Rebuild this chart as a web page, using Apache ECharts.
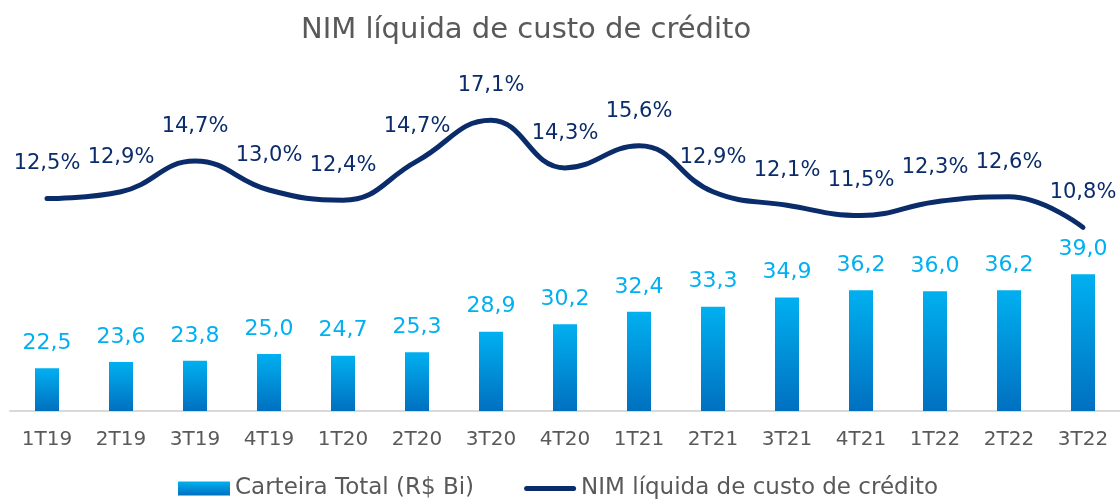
<!DOCTYPE html>
<html><head><meta charset="utf-8">
<script src="https://cdn.jsdelivr.net/npm/echarts@6/dist/echarts.min.js"></script>
<style>html,body{margin:0;padding:0;background:#fff}#c{width:1120px;height:500px}</style>
</head><body><div id="c"></div>
<script>
const categories = ['1T19','2T19','3T19','4T19','1T20','2T20','3T20','4T20','1T21','2T21','3T21','4T21','1T22','2T22','3T22'];
const carteira = [22.5,23.6,23.8,25.0,24.7,25.3,28.9,30.2,32.4,33.3,34.9,36.2,36.0,36.2,39.0];
const nim = [12.5,12.9,14.7,13.0,12.4,14.7,17.1,14.3,15.6,12.9,12.1,11.5,12.3,12.6,10.8];
const titleText = 'NIM líquida de custo de crédito';
const barName = 'Carteira Total (R$ Bi)';
const lineName = 'NIM líquida de custo de crédito';

const FONT = 'DejaVu Sans';
const NAVY = '#0B2C6B';
const fmt = (v, d) => v.toFixed(d).replace('.', ',');
const chart = echarts.init(document.getElementById('c'));
const grad = new echarts.graphic.LinearGradient(0,0,0,1,[{offset:0,color:'#00B0F0'},{offset:1,color:'#0070C0'}]);
chart.setOption({
  animation:false,
  textStyle:{fontFamily:FONT},
  title:{text:titleText,left:296,top:11,textStyle:{fontFamily:FONT,fontSize:29,fontWeight:'normal',color:'#595959'}},
  legend:{top:472,left:173,itemWidth:52,itemHeight:14,itemGap:50,
    textStyle:{fontFamily:FONT,fontSize:23,color:'#595959'},
    data:[{name:barName,icon:'rect'},
          {name:lineName,icon:'path://M2.5,0H49.5A2.5,2.5,0,0,1,49.5,5H2.5A2.5,2.5,0,0,1,2.5,0Z'}]},
  grid:{left:10,right:0,top:71,bottom:89},
  xAxis:{type:'category',data:categories,
    axisLine:{lineStyle:{color:'#D9D9D9',width:2}},axisTick:{show:false},
    axisLabel:{fontFamily:FONT,fontSize:20,color:'#595959',margin:19}},
  yAxis:[
    {type:'value',min:15,max:74.65,show:false,splitLine:{show:false}},
    {type:'value',min:0,max:20,show:false,splitLine:{show:false}}
  ],
  series:[
    {name:barName,type:'bar',yAxisIndex:0,data:carteira,barWidth:24,
      itemStyle:{color:grad},
      label:{show:true,position:'top',distance:14,fontFamily:FONT,fontSize:22,color:'#00B0F0',
        formatter:p=>fmt(p.value,1)}},
    {name:lineName,type:'line',yAxisIndex:1,data:nim,smooth:0.45,symbol:'none',
      lineStyle:{color:NAVY,width:5,cap:'round'},itemStyle:{color:NAVY}},
    {name:'nimLabels',type:'scatter',yAxisIndex:1,data:nim,symbolSize:0,
      itemStyle:{color:NAVY,opacity:1},silent:true,
      label:{show:true,position:'top',distance:24,fontFamily:FONT,fontSize:21,color:NAVY,
        formatter:p=>fmt(p.value,1)+'%'}}
  ]
});
</script></body></html>
